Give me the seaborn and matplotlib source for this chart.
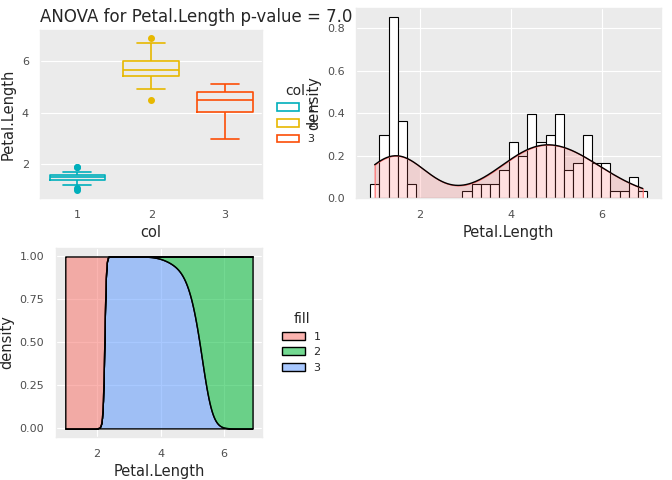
import matplotlib
matplotlib.use("Agg")
import matplotlib.pyplot as plt
import seaborn as sns
import pandas as pd

# -----------------------
# Data: Petal.Length by cluster
# -----------------------
group1 = [1.4, 1.4, 1.3, 1.5, 1.4, 1.7, 1.4, 1.5, 1.4, 1.5, 1.5, 1.6, 1.4, 1.1, 1.2, 1.5, 1.3,
          1.4, 1.7, 1.5, 1.7, 1.5, 1.0, 1.7, 1.9, 1.6, 1.6, 1.5, 1.4, 1.6, 1.6, 1.5, 1.5, 1.4,
          1.5, 1.2, 1.3, 1.4, 1.3, 1.5, 1.3, 1.3, 1.3, 1.6, 1.9, 1.4, 1.6, 1.4, 1.5, 1.4]
group2 = [6.0, 5.9, 5.6, 5.8, 6.6, 4.5, 6.3, 5.8, 6.1, 5.3, 5.5, 5.3, 5.5, 6.7, 6.9, 5.7, 6.7,
          5.7, 6.0, 5.6, 5.8, 6.1, 6.4, 5.6, 5.6, 6.1, 5.6, 5.5, 5.4, 5.6, 5.1, 5.9, 5.7, 5.2,
          5.2, 5.4, 5.0, 4.9]
group3 = [4.7, 4.5, 4.0, 4.6, 4.5, 4.7, 3.3, 4.6, 3.9, 3.5, 4.2, 4.0, 4.7, 3.6, 4.4, 4.5, 4.1,
          4.5, 3.9, 4.8, 4.0, 4.9, 4.7, 4.3, 4.4, 4.8, 4.5, 3.5, 3.8, 3.7, 3.9, 5.1, 4.5, 4.5,
          4.7, 4.4, 4.1, 4.0, 4.4, 4.6, 4.0, 3.3, 4.2, 4.2, 4.2, 4.3, 3.0, 4.1,
          4.8, 4.8, 4.9, 4.9, 4.9, 5.0, 5.0, 5.0, 5.1, 5.1, 5.1, 5.1, 5.1, 5.1]
group_names = ["1", "2", "3"]
title_text = "ANOVA for Petal.Length p-value = 7.0"

df = pd.DataFrame({
    "Petal.Length": group1 + group2 + group3,
    "col": ["1"] * len(group1) + ["2"] * len(group2) + ["3"] * len(group3),
})

# -----------------------
# Style (ggplot-like)
# -----------------------
sns.set_theme(style="darkgrid", context="paper", rc={
    "axes.facecolor": "#EBEBEB", "grid.color": "white", "axes.edgecolor": "#EBEBEB",
    "xtick.color": "#4D4D4D", "ytick.color": "#4D4D4D",
    "xtick.labelsize": 8, "ytick.labelsize": 8, "axes.labelsize": 10.5,
})
plt.rcParams["font.family"] = ["DejaVu Sans"]

fig = plt.figure(figsize=(6.72, 4.8), dpi=100)

# -----------------------
# 1. Boxplot
# -----------------------
box_pal = {"1": "#00AFBB", "2": "#E7B800", "3": "#FC4E07"}
ax1 = fig.add_axes([0.060, 0.5875, 0.330, 0.350])
sns.boxplot(data=df, x="col", y="Petal.Length", hue="col", order=group_names,
            hue_order=group_names, palette=box_pal, fill=False, width=0.75,
            flierprops={"marker": "o", "markersize": 4}, ax=ax1, legend=True)
for line in ax1.lines:
    if line.get_marker() == "o":
        line.set_markerfacecolor(line.get_markeredgecolor())
ax1.set_yticks([2, 4, 6])
ax1.set_xlabel("col")
ax1.set_ylabel("Petal.Length")
ax1.set_title(title_text, fontsize=12, loc="left", x=0.0)
leg = ax1.legend(title="col", loc="center left", bbox_to_anchor=(1.02, 0.5),
                 frameon=False, fontsize=8)
leg.get_title().set_fontsize(10)

# -----------------------
# 2. Histogram + density
# -----------------------
ax2 = fig.add_axes([0.530, 0.5875, 0.454, 0.396])
half = (6.9 - 1.0) / 29 / 2
sns.histplot(df["Petal.Length"], stat="density", bins=30, binrange=(1.0 - half, 6.9 + half),
             color="white", edgecolor="black", alpha=1, linewidth=0.8, ax=ax2)
sns.kdeplot(df["Petal.Length"], fill=True, color="#FF6666", alpha=0.2, ax=ax2, cut=0)
sns.kdeplot(df["Petal.Length"], color="black", linewidth=1, ax=ax2, cut=0)
ax2.set_yticks([0.0, 0.2, 0.4, 0.6, 0.8])
ax2.set_xticks([2, 4, 6])
ax2.set_xlabel("Petal.Length")
ax2.set_ylabel("density")

# -----------------------
# 3. Conditional density (fill)
# -----------------------
fill_pal = {"1": "#F8766D", "2": "#00BA38", "3": "#619CFF"}
ax3 = fig.add_axes([0.083, 0.0896, 0.307, 0.394])
sns.kdeplot(data=df, x="Petal.Length", hue="col", hue_order=group_names, multiple="fill",
            palette=fill_pal, alpha=0.55, edgecolor="black", linewidth=1, cut=0,
            bw_adjust=1.3, ax=ax3)
ax3.set_yticks([0.0, 0.25, 0.5, 0.75, 1.0])
ax3.set_yticklabels(["0.00", "0.25", "0.50", "0.75", "1.00"])
ax3.set_xticks([2, 4, 6])
ax3.set_xlim(0.7, 7.2)
ax3.set_ylim(-0.05, 1.05)
ax3.set_xlabel("Petal.Length")
ax3.set_ylabel("density")
sns.move_legend(ax3, "center left", bbox_to_anchor=(1.05, 0.5), title="fill",
                frameon=False, fontsize=8, title_fontsize=10)

fig.savefig("out.png", dpi=100)
